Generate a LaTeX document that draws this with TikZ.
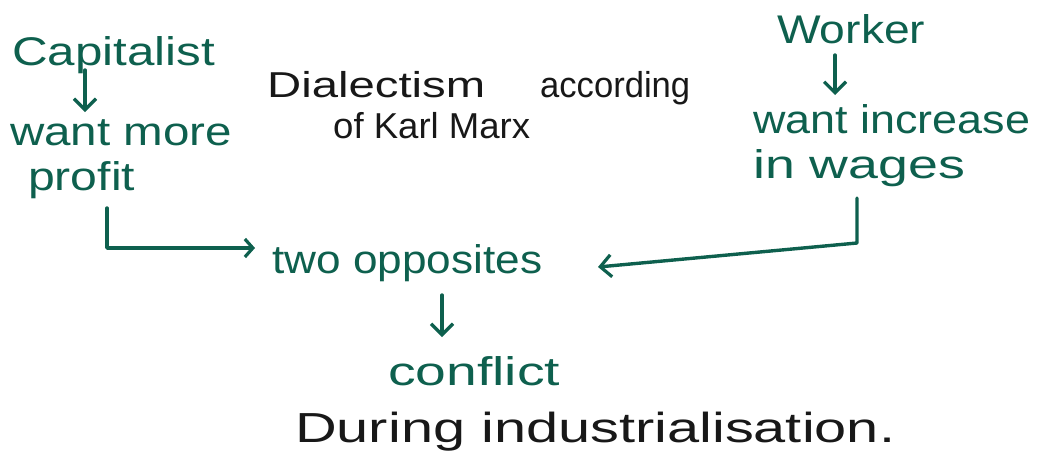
\documentclass[tikz,border=0pt]{standalone}
\usepackage{fontspec}
\setmainfont{Liberation Sans}
\usetikzlibrary{arrows.meta}
\definecolor{ink}{RGB}{14,96,78}
\definecolor{pencil}{RGB}{24,24,24}
\tikzset{
  x=1pt, y=1pt,
  word/.style={inner sep=0pt, anchor=base west, text=ink},
  plain/.style={inner sep=0pt, anchor=base west, text=pencil},
  conn/.style={draw=ink, line width=3.4pt, line cap=round, line join=round,
    -{Straight Barb[length=11pt, width=22pt, line width=3.2pt]}},
  short conn/.style={conn,
    -{Straight Barb[length=8pt, width=18pt, line width=3.2pt]}},
}
% text set at a given size, then stretched sideways to a given width
\newcommand{\fs}[1]{\fontsize{#1}{#1}\selectfont}
\newcommand{\fitto}[3]{\resizebox{#1pt}{\height}{\fs{#2}#3}}
\begin{document}
\begin{tikzpicture}
  \useasboundingbox (0,0) rectangle (1039,-467);

  % left column: capitalist
  \node[word] (cap) at (12,-65) {\fitto{203}{40}{Capitalist}};
  \node[word] (wantmore) at (10,-145) {\fitto{222}{40}{want more}};
  \node[word] (profit) at (28,-190) {\fitto{107}{40}{profit}};

  % title
  \node[plain] (dial) at (267,-97) {\fitto{218}{36}{Dialectism}};
  \node[plain] (acc) at (540,-97) {\fitto{150}{36}{according}};
  \node[plain] (marx) at (333,-138) {\fitto{197}{36}{of Karl Marx}};

  % right column: worker
  \node[word] (worker) at (777,-43) {\fitto{148}{40}{Worker}};
  \node[word] (wantinc) at (753,-133) {\fitto{277}{40}{want increase}};
  \node[word] (wages) at (753,-178) {\fitto{212}{40}{in wages}};

  % middle
  \node[word] (opp) at (272,-273) {\fitto{270}{40}{two opposites}};
  \node[word] (conflict) at (388,-385) {\fitto{172}{40}{conflict}};
  \node[plain] (during) at (295,-442) {\fitto{600}{42}{During industrialisation.}};

  \coordinate (rcorner) at (857,-243);

  % vertical arrows
  \draw[conn] ([shift={(73,-5)}]cap.base west) -- ([shift={(75,33)}]wantmore.base west);
  \draw[conn] ([shift={(58,-12)}]worker.base west) -- ([shift={(82,38)}]wantinc.base west);
  \draw[conn] ([shift={(170,-22)}]opp.base west) -- ([shift={(54,48)}]conflict.base west);

  % elbow connectors into "two opposites"
  \draw[short conn] ([shift={(79,-18)}]profit.base west) |- ([shift={(-17,25)}]opp.base west);
  \draw[conn] ([shift={(104,-20)}]wages.base west) -- (rcorner) -- ([shift={(326,6)}]opp.base west);
\end{tikzpicture}
\end{document}
